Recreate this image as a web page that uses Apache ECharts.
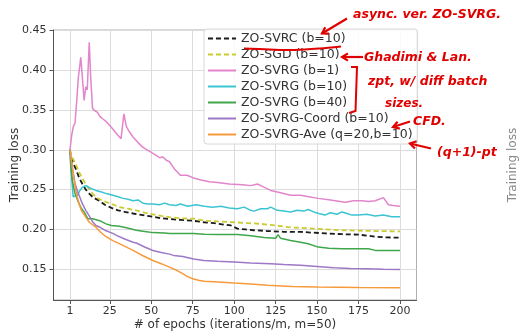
<!DOCTYPE html>
<html><head><meta charset="utf-8">
<script src="https://cdn.jsdelivr.net/npm/echarts@6/dist/echarts.min.js"></script>
<style>html,body{margin:0;padding:0;background:#fff}#c{width:519px;height:332px}</style>
</head><body><div id="c"></div>
<script>
// ---- data ----
const xTicks = [1, 25, 50, 75, 100, 125, 150, 175, 200];
const yTicks = [0.15, 0.20, 0.25, 0.30, 0.35, 0.40, 0.45];
const seriesNames = ['ZO-SVRC (b=10)', 'ZO-SGD (b=10)', 'ZO-SVRG (b=1)', 'ZO-SVRG (b=10)', 'ZO-SVRG (b=40)', 'ZO-SVRG-Coord (b=10)', 'ZO-SVRG-Ave (q=20,b=10)'];

const svrcB10 = [[1,0.300],[1.4,0.291],[3,0.283],[4.5,0.276],[6.5,0.265],[8.5,0.257],[10.5,0.250],[12.6,0.245],[15,0.240],[18.7,0.236],[22,0.231],[26,0.227],[30,0.224],[34,0.222],[39,0.220],[45,0.218],[51,0.216],[56,0.214],[61,0.213],[68,0.212],[75,0.211],[81.7,0.209],[88,0.208],[94,0.206],[98,0.205],[102,0.201],[107,0.200],[112,0.199],[120,0.198],[130,0.197],[140,0.197],[147,0.196],[155,0.195],[165,0.194],[175,0.1935],[185,0.191],[192,0.190],[200,0.1896]];
const sgdB10 = [[1,0.300],[2,0.292],[4,0.284],[6,0.274],[8.5,0.264],[11,0.255],[14.6,0.245],[17,0.240],[20.7,0.236],[26,0.232],[30.8,0.228],[36,0.226],[41,0.224],[46,0.221],[51,0.219],[56,0.217],[61,0.2155],[68,0.214],[75.6,0.2135],[82,0.211],[90,0.210],[100,0.209],[108,0.208],[116,0.207],[125,0.205],[134,0.2025],[140,0.202],[148,0.201],[155,0.200],[165,0.199],[175,0.1985],[185,0.198],[200,0.1975]];
const svrgB1 = [[1,0.300],[2,0.318],[3,0.329],[4,0.333],[5,0.360],[6,0.390],[7.5,0.416],[8.5,0.390],[9.5,0.362],[10.5,0.379],[11.4,0.375],[12.6,0.435],[13.5,0.390],[14.6,0.352],[16,0.349],[17.6,0.347],[19,0.342],[20.7,0.339],[23,0.335],[25.7,0.329],[28,0.323],[30,0.318],[31.8,0.314],[33.5,0.345],[35,0.329],[37,0.322],[39,0.316],[42,0.309],[45,0.303],[49,0.298],[53,0.293],[55,0.290],[57,0.291],[59,0.287],[61,0.285],[64,0.276],[67.5,0.268],[71.6,0.268],[75,0.265],[80,0.262],[85,0.260],[90,0.259],[97,0.257],[105,0.256],[110,0.255],[114,0.257],[117,0.254],[122,0.249],[128,0.246],[134,0.243],[140,0.243],[145,0.241],[150.7,0.239],[158,0.237],[166.9,0.234],[172,0.236],[177,0.236],[181,0.235],[185,0.236],[190,0.240],[193,0.231],[196,0.230],[200,0.229]];
const svrgB10 = [[1,0.300],[2,0.265],[2.9,0.241],[4,0.240],[5.5,0.243],[7,0.249],[8.5,0.253],[10.5,0.255],[13,0.252],[16.6,0.249],[20,0.247],[23,0.245],[26.8,0.243],[30,0.241],[33,0.239],[36,0.238],[39,0.236],[42,0.237],[45,0.233],[48,0.232],[51,0.232],[55,0.231],[58,0.233],[61,0.231],[65,0.230],[67.5,0.232],[72,0.229],[77,0.231],[82,0.229],[87,0.228],[92,0.229],[97,0.227],[102,0.226],[106,0.228],[110,0.224],[112,0.223],[116,0.226],[120,0.226],[122,0.228],[126,0.224],[130,0.223],[134,0.222],[138,0.224],[142,0.223],[144.6,0.225],[148,0.222],[151,0.220],[154.7,0.218],[158,0.221],[162,0.219],[165,0.222],[168,0.220],[171,0.218],[175,0.218],[180,0.219],[185,0.217],[190,0.218],[195,0.216],[200,0.216]];
const svrgB40 = [[1,0.300],[1.4,0.281],[2.4,0.262],[4,0.245],[6.5,0.232],[8,0.226],[9.5,0.222],[11.7,0.2135],[14.6,0.2135],[18.9,0.211],[22.7,0.207],[26,0.205],[30.8,0.204],[35,0.202],[41,0.199],[46,0.1975],[51,0.196],[58,0.1955],[61,0.195],[69,0.195],[75.6,0.195],[82,0.194],[90,0.1935],[102,0.1935],[110,0.192],[118,0.190],[125,0.1888],[126.5,0.1935],[128,0.1888],[134,0.1862],[140,0.184],[144.6,0.182],[150.7,0.1778],[157,0.1765],[165,0.1758],[173,0.1758],[181,0.1758],[185,0.1737],[192,0.1737],[200,0.1737]];
const coordB10 = [[1,0.300],[2.5,0.276],[4,0.258],[5.5,0.248],[7,0.240],[8.5,0.232],[10.5,0.224],[12.6,0.217],[14.5,0.210],[16.6,0.205],[18.9,0.203],[22,0.199],[26.8,0.195],[29,0.1925],[34,0.188],[39,0.184],[41,0.183],[46,0.178],[51,0.1735],[56,0.171],[61,0.169],[63.5,0.1674],[69,0.166],[75.6,0.163],[81.7,0.161],[90,0.160],[100,0.159],[110,0.158],[122,0.157],[130,0.156],[140,0.155],[150,0.1535],[160,0.152],[170,0.151],[180,0.1505],[190,0.150],[200,0.1498]];
const aveQ20B10 = [[1,0.300],[2,0.285],[3.5,0.262],[5,0.243],[6.5,0.232],[8,0.223],[10.5,0.2155],[12.6,0.209],[16.6,0.203],[18.7,0.198],[22,0.192],[26.8,0.186],[32,0.181],[39,0.1737],[45,0.167],[51,0.161],[56,0.157],[61,0.1527],[65,0.149],[69,0.1444],[71.6,0.141],[75,0.138],[79,0.136],[82,0.135],[90,0.134],[100,0.1326],[110,0.1315],[120,0.130],[135,0.1285],[150,0.1276],[175,0.1270],[200,0.1268]];

const seriesData = [svrcB10, sgdB10, svrgB1, svrgB10, svrgB40, coordB10, aveQ20B10];
const colors = ['#1a1a1a', '#cccc30', '#e285cb', '#3cc4d2', '#3fa64a', '#9d78c6', '#f79a3c'];
const dashed = [true, true, false, false, false, false, false];

// ---- annotation helpers ----
const RED = '#e00000';
function arrow(x1, y1, x2, y2, head) {
  const a = Math.atan2(y2 - y1, x2 - x1);
  const h = head || 7;
  const w1 = [x2 - h * Math.cos(a - 0.55), y2 - h * Math.sin(a - 0.55)];
  const w2 = [x2 - h * Math.cos(a + 0.55), y2 - h * Math.sin(a + 0.55)];
  return [
    {type: 'polyline', z: 100, shape: {points: [[x1, y1], [x2, y2]]}, style: {stroke: RED, lineWidth: 2.2, fill: null}},
    {type: 'polyline', z: 100, shape: {points: [w1, [x2, y2], w2]}, style: {stroke: RED, lineWidth: 2.2, fill: null}}
  ];
}
function note(text, x, y, size) {
  return {type: 'text', z: 100, x: x, y: y, style: {text: text, fill: RED, font: 'italic bold ' + (size || 13) + 'px "DejaVu Sans"', verticalAlign: 'middle', align: 'left'}};
}

const graphics = [].concat(
  [{type: 'polyline', z: 100, shape: {points: [[244, 48.5], [270, 49.5], [295, 50], [320, 48.5], [341, 46.5]], smooth: 0.3}, style: {stroke: RED, lineWidth: 2, fill: null}}],
  arrow(347, 18.5, 322, 33.5),
  [note('async. ver. ZO-SVRG.', 353, 15, 12.5)],
  arrow(363, 57, 342, 57),
  [note('Ghadimi & Lan.', 364, 58, 12.5)],
  [{type: 'polyline', z: 100, shape: {points: [[351, 67], [357, 67], [355.5, 111], [349, 113]]}, style: {stroke: RED, lineWidth: 2, fill: null}}],
  [note('zpt, w/ diff batch', 368, 82, 12.5), note('sizes.', 385, 104, 12)],
  arrow(410, 121.5, 393, 127),
  [note('CFD.', 413, 122, 12.5)],
  arrow(431, 148.5, 410, 143.5),
  [note('(q+1)-pt', 437, 153, 12.5)],
  [{type: 'text', z: 100, x: 507, y: 165, rotation: Math.PI / 2, style: {text: 'Training loss', fill: '#888', font: '12px "DejaVu Sans"', align: 'center', verticalAlign: 'top'}}]
);

const chart = echarts.init(document.getElementById('c'), null, {renderer: 'canvas'});
chart.setOption({
  animation: false,
  backgroundColor: '#fff',
  textStyle: {fontFamily: 'DejaVu Sans'},
  grid: {left: 53.5, right: 102.5, top: 30, bottom: 32, outerBoundsMode: 'none', containLabel: false, show: true, borderColor: '#b0b0b0', borderWidth: 1, backgroundColor: 'transparent'},
  legend: {
    orient: 'vertical', left: 204, top: 29,
    padding: [3, 5, 3, 3], itemGap: 3, itemWidth: 28, itemHeight: 14,
    backgroundColor: 'rgba(255,255,255,0.85)', borderColor: '#d8d8d8', borderWidth: 1, borderRadius: 3,
    itemStyle: {opacity: 0},
    textStyle: {fontSize: 12.5, color: '#333', fontFamily: 'DejaVu Sans'},
    data: seriesNames
  },
  xAxis: {
    type: 'value', min: -8.95, max: 209.95,
    name: '# of epochs (iterations/m, m=50)', nameLocation: 'middle', nameGap: 19, nameMoveOverlap: false,
    nameTextStyle: {fontSize: 12, color: '#333'},
    axisLine: {show: true, onZero: false, lineStyle: {color: '#555', width: 1}},
    axisTick: {show: true, length: 4, lineStyle: {color: '#555'}, customValues: xTicks},
    axisLabel: {fontSize: 11, color: '#333', margin: 6, customValues: xTicks, formatter: v => String(v)},
    splitLine: {show: true, lineStyle: {color: '#dcdcdc', width: 1}}
  },
  yAxis: {
    type: 'value', min: 0.1114, max: 0.4504,
    name: 'Training loss', nameLocation: 'middle', nameGap: 33, nameRotate: 90, nameMoveOverlap: false,
    nameTextStyle: {fontSize: 12, color: '#333'},
    axisLine: {show: true, onZero: false, lineStyle: {color: '#555', width: 1}},
    axisTick: {show: true, length: 4, lineStyle: {color: '#555'}, customValues: yTicks},
    axisLabel: {fontSize: 11, color: '#333', margin: 7, customValues: yTicks, formatter: v => v.toFixed(2)},
    splitLine: {show: true, lineStyle: {color: '#dcdcdc', width: 1}}
  },
  series: seriesNames.map((n, i) => ({
    name: n, type: 'line', data: seriesData[i], symbol: 'none', showSymbol: false,
    color: colors[i],
    lineStyle: {color: colors[i], width: dashed[i] ? 1.8 : 1.5, type: dashed[i] ? [5, 3] : 'solid'},
    emphasis: {disabled: true}
  })),
  graphic: graphics
});
</script>
</body></html>
